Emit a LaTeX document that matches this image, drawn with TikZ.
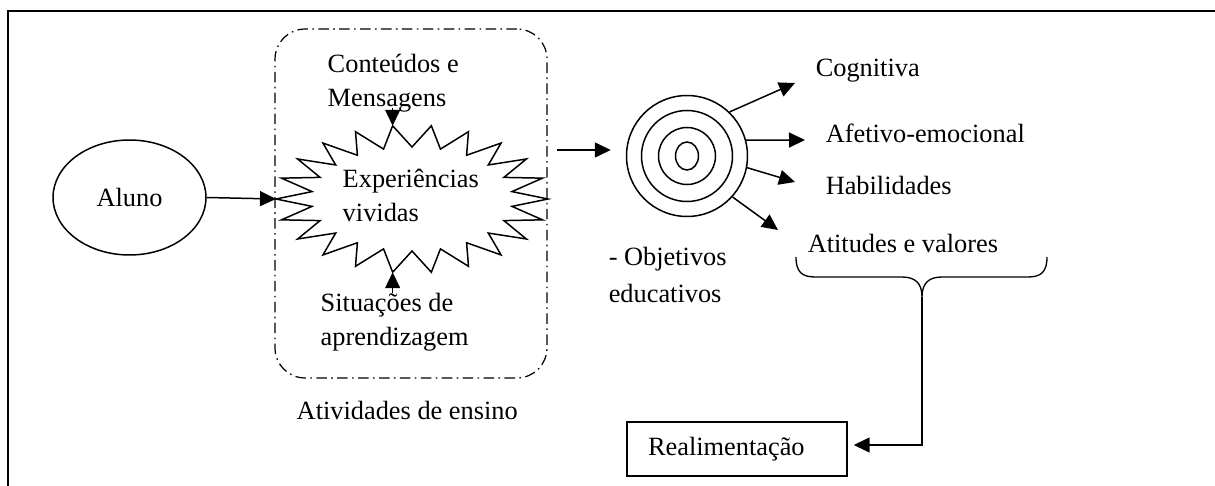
\documentclass[tikz,border=0pt]{standalone}
\usepackage{fontspec}
\setmainfont{Liberation Serif}
\usetikzlibrary{arrows.meta,shapes.geometric}
\tikzset{%
  >={Triangle[width=3mm,length=3.2mm]},
  % estilos dos elementos do esquema
          texto/.style = {inner sep=0pt, anchor=west, align=left,
                          font=\fontsize{15}{19.3}\selectfont},
          aluno/.style = {ellipse, draw, minimum width=3.06cm, minimum height=2.3cm,
                          inner sep=0pt, font=\fontsize{15}{19.3}\selectfont},
         ensino/.style = {rectangle, rounded corners=0.6cm, draw, line width=0.7pt,
                          dash pattern=on 6pt off 2.5pt on 0.9pt off 2.5pt,
                          minimum width=5.44cm, minimum height=6.98cm},
           alvo/.style = {circle, draw, minimum size=2.42cm, inner sep=0pt},
  realimentacao/.style = {rectangle, draw, text width=3.56cm, inner xsep=0.42cm,
                          minimum height=1.08cm, align=left,
                          font=\fontsize{15}{19.3}\selectfont},
}

\begin{document}
\begin{tikzpicture}[x=0.02cm, y=-0.02cm, line width=0.85pt]
  \useasboundingbox (0,0) rectangle (1215,486);
  % moldura
  \draw[line width=1pt] (1215,11) -| (8,486);

  % nos do esquema
  \node (aluno)  [aluno]  at (129.5,197.5) {Aluno\hspace{0.28cm}};
  \node (ensino) [ensino] at (411,203.5)   {};
  \node (ativ)   [texto]  at (296,410.5)   {Atividades de ensino};

  % estrela das experiencias (22 pontas)
  \draw[shift={(412,199)}] (0:136 and 74)
    \foreach \k in {0,...,21} {
      -- ({(\k+0.5)*360/22}:101 and 52) -- ({(\k+1)*360/22}:136 and 74)
    } -- cycle;
  \path[shift={(412,199)}] (180:136 and 74)       coordinate (expW)
                           ({16*360/22}:136 and 74) coordinate (expN)
                           ({6*360/22}:136 and 74)  coordinate (expS);
  \node (exp)  [texto] at (342,195.5) {Experiências\\vividas};
  \node (cont) [texto] at (327,83)    {Conteúdos e\\Mensagens};
  \node (sit)  [texto] at (320,322.5) {Situações de\\aprendizagem};

  % alvo
  \node (alvo) [alvo] at (687,156) {};
  \draw (alvo.center) circle[radius=45.5];
  \draw (alvo.center) circle[radius=28.5];
  \draw (alvo.center) ellipse[x radius=11.5, y radius=14];
  \node (obj) [texto, font=\fontsize{15}{21}\selectfont] at (608,275)
              {- Objetivos\\educativos};

  \node (cog) [texto] at (815,71)  {Cognitiva};
  \node (afe) [texto] at (825,133) {Afetivo-emocional};
  \node (hab) [texto] at (825,185) {Habilidades};
  \node (ati) [texto] at (807,243) {Atitudes e valores};

  \node (realim) [realimentacao] at (737,449) {Realimentação};

  % ligacoes
  \draw[->] (aluno.east) -- (expW);
  \draw[->] ([yshift=0.1cm]cont.south -| expN) -- (expN);
  \draw[->] (sit.north -| expS) -- (expS);
  \draw[->] ([shift={(9,-6)}]ensino.east |- alvo.west) -- ([shift={(-15,-6)}]alvo.west);

  \draw[->] (alvo.46)  -- ([shift={(-20,12)}]cog.west);
  \draw[->] (alvo.15)  -- ([shift={(-20,7)}]afe.west);
  \draw[->] (alvo.-11) -- ([shift={(-30,-3)}]hab.west);
  \draw[->] (alvo.-42) -- ([shift={(-29,-13)}]ati.west);

  % chave
  \draw[line width=0.75pt] (796,257) .. controls (796,272) and (802,277) .. (815,277)
        -- (902,277) .. controls (915,277) and (922,283) .. (922,297)
        coordinate (chave)
        .. controls (922,283) and (929,277) .. (942,277)
        -- (1028,277) .. controls (1041,277) and (1047,272) .. (1047,257);
  \draw[->] (chave) |- ([shift={(6,-4)}]realim.east);
\end{tikzpicture}
\end{document}
